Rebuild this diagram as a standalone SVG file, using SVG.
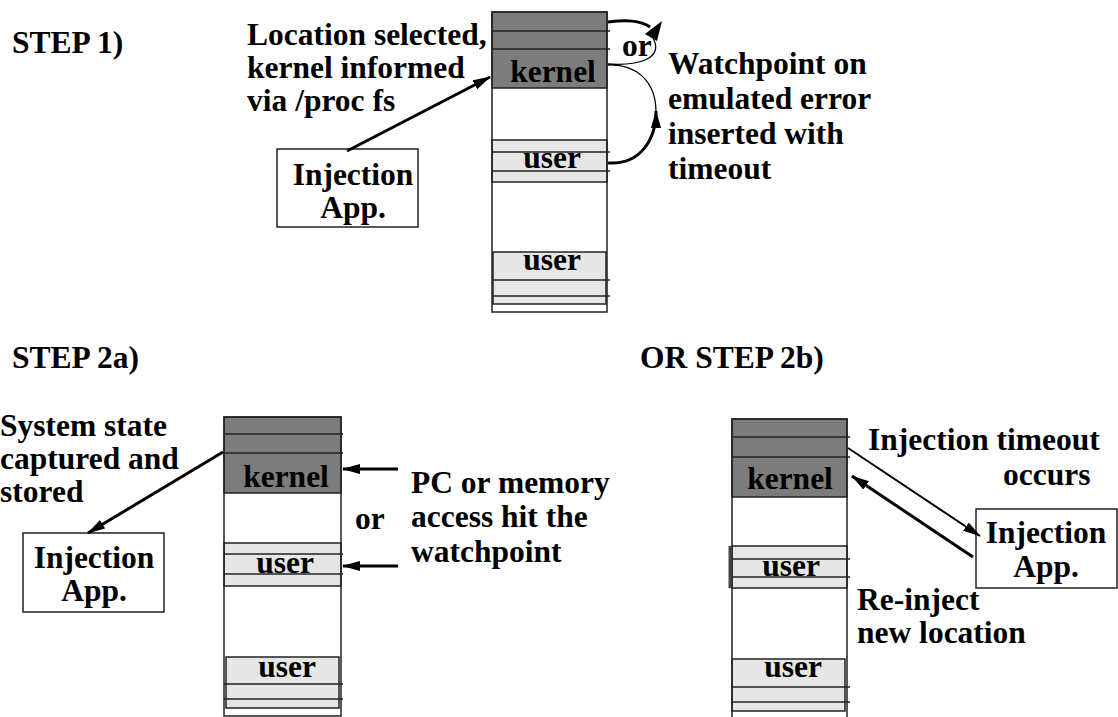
<svg xmlns="http://www.w3.org/2000/svg" width="1118" height="717" viewBox="0 0 1118 717">
<style>
text{font-family:"Liberation Serif","Times New Roman",serif;font-weight:bold;font-size:31.5px;fill:#000}
.dk{fill:#7c7c7c;stroke:#222;stroke-width:1.5}
.lt{fill:#e6e6e6;stroke:#222;stroke-width:1.5}
.ol{fill:none;stroke:#222;stroke-width:1.5}
.ln{stroke:#222;stroke-width:1.5}
.box{fill:#fff;stroke:#222;stroke-width:1.5}
.ar{fill:none;stroke:#000;stroke-width:3;marker-end:url(#ah)}
.arT{fill:none;stroke:#000;stroke-width:2;marker-end:url(#ah)}
.thick{fill:none;stroke:#000;stroke-width:3}
.thin{fill:none;stroke:#000;stroke-width:1.3}
.c{text-anchor:middle}
</style>
<defs>
<marker id="ah" viewBox="0 0 18 10" refX="17" refY="5" markerWidth="18" markerHeight="10" markerUnits="userSpaceOnUse" orient="auto"><path d="M0,0 L18,5 L0,10 z" fill="#000"/></marker>
</defs>
<g id="labels">
<text x="12" y="53">STEP 1)</text>
<text x="247" y="45">Location selected,</text>
<text x="247" y="78">kernel informed</text>
<text x="247" y="111">via /proc fs</text>
<text x="622" y="56">or</text>
<text x="668" y="74">Watchpoint on</text>
<text x="668" y="109">emulated error</text>
<text x="668" y="144">inserted with</text>
<text x="668" y="179">timeout</text>
<text x="12" y="368">STEP 2a)</text>
<text x="640" y="368">OR STEP 2b)</text>
<text x="0" y="436">System state</text>
<text x="0" y="469">captured and</text>
<text x="0" y="502">stored</text>
<text x="411" y="493">PC or memory</text>
<text x="355" y="529">or</text>
<text x="411" y="527">access hit the</text>
<text x="411" y="562">watchpoint</text>
<text x="868" y="450">Injection timeout</text>
<text x="1003" y="485">occurs</text>
<text x="857" y="610">Re-inject</text>
<text x="857" y="643">new location</text>
</g>
<g id="mem1">
<rect class="dk" x="492" y="12" width="115" height="76"/>
<rect class="lt" x="492" y="140" width="115" height="42"/>
<rect class="lt" x="493" y="252" width="113" height="52"/>
<rect class="ol" x="492" y="12" width="115" height="300"/>
<path class="ln" d="M492,31H610M492,49H610M492,152H610M492,171H610M492,280H610M492,296H610"/>
<text class="c" x="553" y="82">kernel</text>
<text class="c" x="552" y="168">user</text>
<text class="c" x="552" y="270">user</text>
</g>
<g id="app1">
<rect class="box" x="277" y="149" width="141" height="78"/>
<text class="c" x="353" y="185">Injection</text>
<text class="c" x="353" y="218">App.</text>
</g>
<g id="mem2a">
<rect class="dk" x="224" y="417" width="117" height="76"/>
<rect class="lt" x="224" y="543" width="117" height="43"/>
<rect class="lt" x="226" y="657" width="113" height="51"/>
<rect class="ol" x="224" y="417" width="117" height="299"/>
<path class="ln" d="M224,434H343M224,453H343M224,554H343M224,574H343M224,684H343M224,699H343"/>
<text class="c" x="286" y="487">kernel</text>
<text class="c" x="285" y="573">user</text>
<text class="c" x="287" y="677">user</text>
</g>
<g id="app2a">
<rect class="box" x="23" y="533" width="141" height="79"/>
<text class="c" x="94" y="568">Injection</text>
<text class="c" x="94" y="601">App.</text>
</g>
<g id="mem2b">
<rect class="dk" x="732" y="419" width="115" height="78"/>
<rect class="lt" x="732" y="546" width="115" height="42"/>
<rect class="lt" x="732" y="659" width="113" height="52"/>
<rect class="ol" x="732" y="419" width="115" height="300"/>
<path class="ln" d="M732,437H850M732,457H850M732,559H850M732,577H850M732,687H850M732,702H850"/>
<path d="M730,546V588" stroke="#444" stroke-width="3"/>
<text class="c" x="790" y="489">kernel</text>
<text class="c" x="791" y="576">user</text>
<text class="c" x="793" y="677">user</text>
</g>
<g id="app2b">
<rect class="box" x="976" y="509" width="141" height="79"/>
<text class="c" x="1046" y="543">Injection</text>
<text class="c" x="1046" y="577">App.</text>
</g>
<g id="connectors">
<path class="ar" d="M347,151L490,77"/>
<path class="thick" d="M608,22C626,20 640,20 650,27"/>
<path d="M662,21L645,34L657,41z" fill="#000"/>
<path class="thin" d="M653,38C664,58 640,66 608,64"/>
<path class="thin" d="M608,65C635,64 656,80 656,112"/>
<path class="ar" d="M608,163C640,165 656,140 656,111"/>
<path class="ar" d="M223,452L88,533"/>
<path class="ar" d="M398,469L343,469"/>
<path class="ar" d="M398,566L343,566"/>
<path class="arT" d="M848,448L980,536"/>
<path class="ar" d="M973,557L852,476"/>
</g>
</svg>
